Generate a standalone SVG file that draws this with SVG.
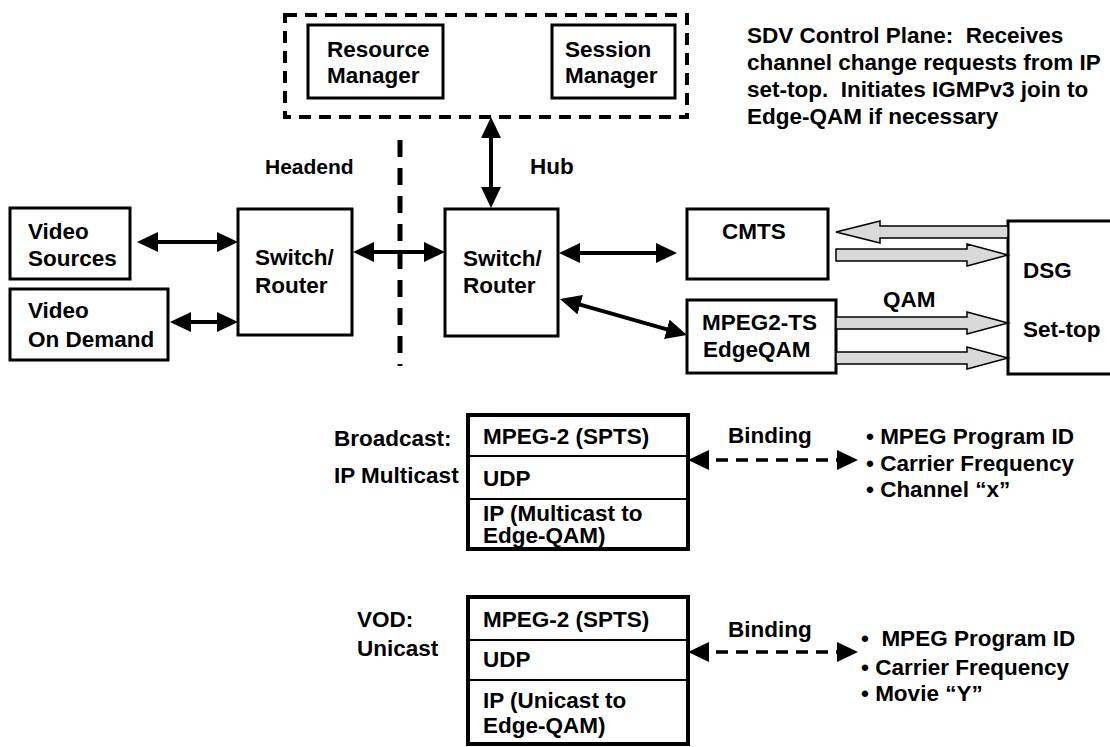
<svg xmlns="http://www.w3.org/2000/svg" width="1110" height="747" viewBox="0 0 1110 747">
  <style>
    text { font-family: "Liberation Sans", Arial, sans-serif; font-weight: bold; font-size: 22.5px; fill: #000; }
    .note { white-space: pre; }
    .box { fill: #fff; stroke: #000; stroke-width: 3; }
    .stack { fill: #fff; stroke: #000; stroke-width: 4; }
    .row { stroke: #000; stroke-width: 2; }
    .link { stroke: #000; stroke-width: 4; fill: none; marker-start: url(#head); marker-end: url(#head); }
    .bind { stroke: #000; stroke-width: 3.5; fill: none; stroke-dasharray: 12 8; marker-start: url(#head); marker-end: url(#head); }
    .block { fill: #d9d9d9; stroke: #000; stroke-width: 1.5; }
    .divider { stroke: #000; stroke-width: 5; stroke-dasharray: 17 11; fill: none; }
    .group { fill: none; stroke: #000; stroke-width: 4; stroke-dasharray: 12 8; }
  </style>
  <defs>
    <marker id="head" markerUnits="userSpaceOnUse" markerWidth="21" markerHeight="20" refX="13" refY="10" orient="auto-start-reverse">
      <path d="M0,0 L21,10 L0,20 z" fill="#000"/>
    </marker>
  </defs>

  <!-- SDV control plane group -->
  <g id="control-plane">
    <rect class="group" x="285" y="15" width="402" height="102"/>
  </g>
  <g id="resource-manager">
    <rect class="box" x="308" y="25" width="135" height="73"/>
    <text x="327" y="57">Resource</text>
    <text x="327" y="83">Manager</text>
  </g>
  <g id="session-manager">
    <rect class="box" x="552" y="25" width="123" height="73"/>
    <text x="565" y="57">Session</text>
    <text x="565" y="83">Manager</text>
  </g>

  <g id="control-note">
    <text class="note" x="747" y="43">SDV Control Plane:  Receives</text>
    <text class="note" x="747" y="70">channel change requests from IP</text>
    <text class="note" x="747" y="97">set-top.  Initiates IGMPv3 join to</text>
    <text class="note" x="747" y="124">Edge-QAM if necessary</text>
  </g>

  <!-- headend / hub boundary -->
  <g id="boundary">
    <line class="divider" x1="400" y1="140" x2="400" y2="366"/>
    <text x="265" y="174" style="font-size:21px">Headend</text>
    <text x="530" y="174">Hub</text>
  </g>

  <g id="video-sources">
    <rect class="box" x="10" y="208" width="120" height="71"/>
    <text x="28" y="239">Video</text>
    <text x="28" y="266">Sources</text>
  </g>
  <g id="video-on-demand">
    <rect class="box" x="10" y="289" width="158" height="71"/>
    <text x="28" y="318">Video</text>
    <text x="28" y="347">On Demand</text>
  </g>
  <g id="headend-switch">
    <rect class="box" x="238" y="209" width="114" height="126"/>
    <text x="255" y="265">Switch/</text>
    <text x="255" y="293">Router</text>
  </g>
  <g id="hub-switch">
    <rect class="box" x="445" y="209" width="113" height="127"/>
    <text x="463" y="266">Switch/</text>
    <text x="463" y="293">Router</text>
  </g>
  <g id="cmts">
    <rect class="box" x="687" y="209" width="141" height="70"/>
    <text x="722" y="239">CMTS</text>
  </g>
  <g id="edge-qam">
    <rect class="box" x="687" y="300" width="149" height="73"/>
    <text x="702" y="330">MPEG2-TS</text>
    <text x="703" y="357">EdgeQAM</text>
  </g>
  <g id="set-top">
    <rect class="box" x="1008" y="221" width="110" height="153"/>
    <text x="1023" y="278">DSG</text>
    <text x="1023" y="337">Set-top</text>
  </g>

  <!-- connectors -->
  <g id="connectors">
    <line class="link" x1="145" y1="242" x2="230" y2="242"/>
    <line class="link" x1="178" y1="322" x2="230" y2="322"/>
    <line class="link" x1="361" y1="252" x2="437" y2="252"/>
    <line class="link" x1="491" y1="125" x2="491" y2="200"/>
    <line class="link" x1="567" y1="253" x2="669" y2="253"/>
    <line class="link" x1="567.7" y1="301.2" x2="679.3" y2="332.8"/>
    <polygon class="block" points="836,232 880,221 880,226 1008,226 1008,238 880,238 880,243"/>
    <polygon class="block" points="836,249 967,249 967,244 1008,255 967,266 967,261 836,261"/>
    <polygon class="block" points="836,317 967,317 967,312 1008,323 967,334 967,329 836,329"/>
    <polygon class="block" points="836,352 967,352 967,347 1008,358 967,369 967,364 836,364"/>
    <text x="883" y="307">QAM</text>
    <line class="bind" x1="696" y1="460" x2="850" y2="460"/>
    <line class="bind" x1="696" y1="652" x2="850" y2="652"/>
  </g>

  <!-- broadcast stack -->
  <g id="broadcast-stack">
    <text x="334" y="446">Broadcast:</text>
    <text x="334" y="483">IP Multicast</text>
    <rect class="stack" x="468" y="415" width="220" height="134"/>
    <line class="row" x1="468" y1="456" x2="688" y2="456"/>
    <line class="row" x1="468" y1="499" x2="688" y2="499"/>
    <text x="483" y="444">MPEG-2 (SPTS)</text>
    <text x="483" y="486">UDP</text>
    <text x="483" y="521">IP (Multicast to</text>
    <text x="483" y="543">Edge-QAM)</text>
  </g>
  <g id="broadcast-binding">
    <text x="728" y="443">Binding</text>
    <text x="866" y="444">• MPEG Program ID</text>
    <text x="866" y="471">• Carrier Frequency</text>
    <text x="866" y="497">• Channel “x”</text>
  </g>

  <!-- VOD stack -->
  <g id="vod-stack">
    <text x="357" y="627">VOD:</text>
    <text x="357" y="656">Unicast</text>
    <rect class="stack" x="468" y="597" width="220" height="147"/>
    <line class="row" x1="468" y1="640" x2="688" y2="640"/>
    <line class="row" x1="468" y1="680" x2="688" y2="680"/>
    <text x="483" y="627">MPEG-2 (SPTS)</text>
    <text x="483" y="667">UDP</text>
    <text x="483" y="708">IP (Unicast to</text>
    <text x="483" y="733">Edge-QAM)</text>
  </g>
  <g id="vod-binding">
    <text x="728" y="637">Binding</text>
    <text x="861" y="646" style="white-space:pre">•  MPEG Program ID</text>
    <text x="861" y="675">• Carrier Frequency</text>
    <text x="861" y="701">• Movie “Y”</text>
  </g>
</svg>
